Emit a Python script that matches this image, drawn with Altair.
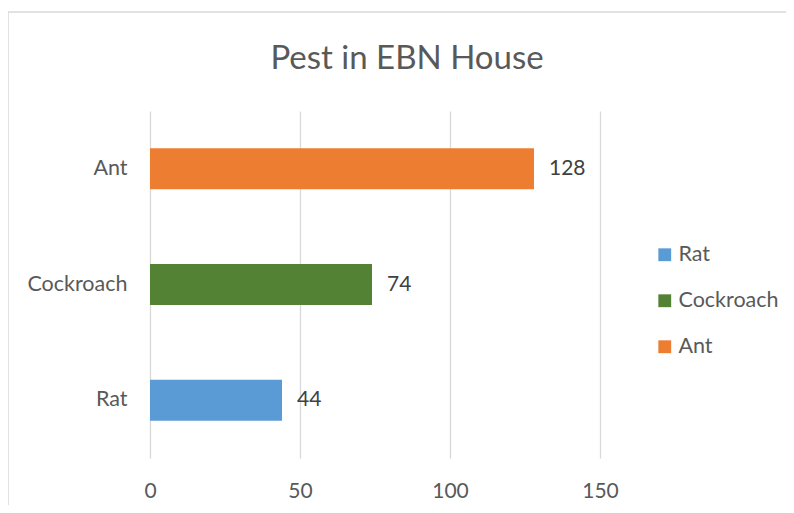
import altair as alt
import pandas as pd

pests = ["Ant", "Cockroach", "Rat"]
counts = [128, 74, 44]
legend_order = ["Rat", "Cockroach", "Ant"]
colors = ["#5B9BD5", "#548235", "#ED7D31"]
title_text = "Pest in EBN House"

df = pd.DataFrame({"pest": pests, "count": counts})
FONT = "Lato"

y_enc = alt.Y("pest:N", sort=pests, title=None,
              scale=alt.Scale(paddingInner=0.645, paddingOuter=0.3225),
              axis=alt.Axis(labelFontSize=21.5, labelColor="#595959", labelFont=FONT,
                            ticks=False, domain=False, labelPadding=23))

bars = alt.Chart(df).mark_bar().encode(
    x=alt.X("count:Q", title=None,
            scale=alt.Scale(domain=[0, 150], nice=False),
            axis=alt.Axis(values=[0, 50, 100, 150], labelFontSize=21, labelColor="#595959",
                          labelFont=FONT, ticks=False, domain=False, labelPadding=22,
                          labelFlush=False, gridColor="#d9d9d9", gridWidth=1.3)),
    y=y_enc,
    color=alt.Color("pest:N", scale=alt.Scale(domain=legend_order, range=colors),
                    legend=alt.Legend(title=None, orient="none", legendX=504, legendY=133,
                                      symbolType="square", symbolSize=165, labelFontSize=21.5,
                                      labelColor="#595959", labelFont=FONT, rowPadding=23,
                                      symbolStrokeWidth=0, labelOffset=3)),
)

labels = alt.Chart(df).mark_text(align="left", dx=15, fontSize=21, color="#404040",
                                 font=FONT).encode(
    x="count:Q", y=alt.Y("pest:N", sort=pests), text="count:Q")

border = alt.Chart(alt.Data(values=[{}])).mark_rect(
    fill=None, stroke="#d9d9d9", strokeWidth=1.5, clip=False).encode(
    x=alt.value(-142), x2=alt.value(700), y=alt.value(-99), y2=alt.value(500))

title = alt.Chart(alt.Data(values=[{"t": title_text}])).mark_text(
    fontSize=33, font=FONT, color="#595959", align="center", baseline="middle").encode(
    x=alt.value(257), y=alt.value(-52), text="t:N")

chart = alt.layer(border, bars, labels, title).properties(
    width=450, height=347,
    padding={"left": 142, "top": 103, "right": 186, "bottom": 47},
    autosize=alt.AutoSizeParams(type="none"),
).configure_view(stroke=None)

chart.save("out.html", embed_options={"renderer": "svg", "actions": False})
